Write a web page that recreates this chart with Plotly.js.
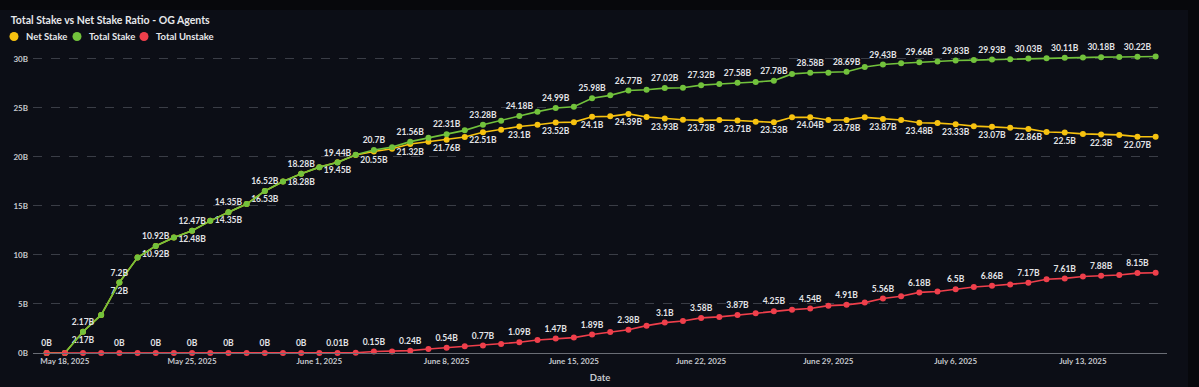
<!DOCTYPE html>
<html>
<head>
<meta charset="utf-8">
<script src="https://cdn.plot.ly/plotly-3.0.1.min.js"></script>
<style>
html,body{margin:0;padding:0;background:#07080c;}
#wrap{position:relative;width:1199px;height:387px;overflow:hidden;}
#card{position:absolute;left:0;top:10px;width:1188px;height:377px;background:#0c0e16;}
#chart{position:absolute;left:0;top:0;width:1199px;height:387px;}
</style>
</head>
<body>
<div id="wrap"><div id="card"></div><div id="chart"></div></div>
<script>
const dates = [
  '2025-05-17','2025-05-18','2025-05-19','2025-05-20','2025-05-21','2025-05-22','2025-05-23','2025-05-24',
  '2025-05-25','2025-05-26','2025-05-27','2025-05-28','2025-05-29','2025-05-30','2025-05-31','2025-06-01',
  '2025-06-02','2025-06-03','2025-06-04','2025-06-05','2025-06-06','2025-06-07','2025-06-08','2025-06-09',
  '2025-06-10','2025-06-11','2025-06-12','2025-06-13','2025-06-14','2025-06-15','2025-06-16','2025-06-17',
  '2025-06-18','2025-06-19','2025-06-20','2025-06-21','2025-06-22','2025-06-23','2025-06-24','2025-06-25',
  '2025-06-26','2025-06-27','2025-06-28','2025-06-29','2025-06-30','2025-07-01','2025-07-02','2025-07-03',
  '2025-07-04','2025-07-05','2025-07-06','2025-07-07','2025-07-08','2025-07-09','2025-07-10','2025-07-11',
  '2025-07-12','2025-07-13','2025-07-14','2025-07-15','2025-07-16','2025-07-17'
];

// values in billions
const netStake = [
  0, 0, 2.17, 3.88, 7.2, 9.74, 10.92, 11.78,
  12.48, 13.48, 14.35, 15.19, 16.53, 17.5, 18.28, 18.96,
  19.45, 20.19, 20.55, 20.83, 21.32, 21.54, 21.76, 22.03,
  22.51, 22.78, 23.1, 23.29, 23.52, 23.55, 24.1, 24.14,
  24.39, 24.07, 23.93, 23.79, 23.73, 23.76, 23.71, 23.6,
  23.53, 24.05, 24.04, 23.77, 23.78, 24.04, 23.87, 23.76,
  23.48, 23.45, 23.33, 23.14, 23.07, 22.98, 22.86, 22.55,
  22.5, 22.35, 22.3, 22.25, 22.07, 22.06
];
const totalStake = [
  0, 0, 2.17, 3.88, 7.2, 9.74, 10.92, 11.78,
  12.47, 13.48, 14.35, 15.19, 16.52, 17.5, 18.28, 18.96,
  19.44, 20.22, 20.7, 21.0, 21.56, 21.95, 22.31, 22.71,
  23.28, 23.7, 24.18, 24.62, 24.99, 25.12, 25.98, 26.28,
  26.77, 26.86, 27.02, 27.06, 27.32, 27.44, 27.58, 27.65,
  27.78, 28.47, 28.58, 28.6, 28.69, 29.18, 29.43, 29.55,
  29.66, 29.73, 29.83, 29.88, 29.93, 29.97, 30.03, 30.07,
  30.11, 30.15, 30.18, 30.2, 30.22, 30.24
];
const totalUnstake = [
  0, 0, 0, 0, 0, 0, 0, 0,
  0, 0, 0, 0, 0, 0, 0, 0,
  0.01, 0.03, 0.15, 0.16, 0.24, 0.41, 0.54, 0.68,
  0.77, 0.92, 1.09, 1.33, 1.47, 1.57, 1.89, 2.14,
  2.38, 2.79, 3.1, 3.27, 3.58, 3.68, 3.87, 4.05,
  4.25, 4.42, 4.54, 4.83, 4.91, 5.14, 5.56, 5.79,
  6.18, 6.28, 6.5, 6.74, 6.86, 6.99, 7.17, 7.52,
  7.61, 7.8, 7.88, 7.95, 8.15, 8.18
];

// which points carry a value label
const netLabelIdx = [2,4,6,8,10,12,14,16,18,20,22,24,26,28,30,32,34,36,38,40,42,44,46,48,50,52,54,56,58,60];
const totalLabelIdx = [2,4,6,8,10,12,14,16,18,20,22,24,26,28,30,32,34,36,38,40,42,44,46,48,50,52,54,56,58,60];
const unstakeLabelIdx = [0,4,6,8,10,12,14,16,18,20,22,24,26,28,30,32,34,36,38,40,42,44,46,48,50,52,54,56,58,60];

const seriesNames = ['Net Stake', 'Total Stake', 'Total Unstake'];
const seriesColors = ['#f7c20f', '#72c23c', '#ef3f4b'];

function labels(vals, idx) {
  return vals.map((v, i) => idx.includes(i) ? (v + 'B') : '');
}

const labelFont = {family: 'Lato', size: 8.5, weight: 700, color: '#e2e3e6'};
const seriesData = [netStake, totalStake, totalUnstake];
const seriesLabels = [netLabelIdx, totalLabelIdx, unstakeLabelIdx];
const seriesPos = ['bottom center', 'top center', 'top center'];

const traces = [];
for (let s = 0; s < 3; s++) {
  traces.push({
    type: 'scatter',
    mode: 'lines+markers+text',
    x: dates,
    y: seriesData[s],
    name: seriesNames[s],
    showlegend: false,
    line: {color: seriesColors[s], width: 1.6},
    marker: {color: seriesColors[s], size: 6},
    text: labels(seriesData[s], seriesLabels[s]),
    textposition: seriesPos[s],
    textfont: labelFont,
    cliponaxis: false,
    hoverinfo: 'skip'
  });
}

// custom compact legend (dot + name), placed in the top margin
const M = {l: 33, r: 32, t: 54, b: 34};
const W = 1199, H = 387;
const plotW = W - M.l - M.r, plotH = H - M.t - M.b;
const pxX = px => (px - M.l) / plotW;
const pxY = py => (H - M.b - py) / plotH;
const legendDotX = [14, 77, 144];
const legendY = 36.5;

const shapes = [], annotations = [];
for (let s = 0; s < 3; s++) {
  shapes.push({
    type: 'circle', xref: 'paper', yref: 'paper',
    xsizemode: 'pixel', ysizemode: 'pixel',
    xanchor: pxX(legendDotX[s]), yanchor: pxY(legendY),
    x0: -4.5, x1: 4.5, y0: -4.5, y1: 4.5,
    fillcolor: seriesColors[s], line: {width: 0}
  });
  annotations.push({
    text: seriesNames[s], xref: 'paper', yref: 'paper',
    x: pxX(legendDotX[s] + 9.5), y: pxY(legendY),
    xanchor: 'left', yanchor: 'middle', showarrow: false,
    font: {family: 'Lato', size: 9.5, weight: 700, color: '#e6e7ea'}
  });
}

const tickFont = {family: 'Lato', size: 8, weight: 700, color: '#c6c8cd'};

const layout = {
  width: W,
  height: H,
  paper_bgcolor: 'rgba(0,0,0,0)',
  plot_bgcolor: 'rgba(0,0,0,0)',
  margin: M,
  title: {
    text: 'Total Stake vs Net Stake Ratio - OG Agents',
    font: {family: 'Lato', size: 10.5, weight: 700, color: '#e6e7ea'},
    xref: 'container', yref: 'container',
    x: 0.009, xanchor: 'left',
    y: 0.947, yanchor: 'middle'
  },
  showlegend: false,
  shapes: shapes,
  annotations: annotations,
  xaxis: {
    type: 'date',
    range: ['2025-05-16 06:00', '2025-07-17 15:00'],
    tick0: '2025-05-18',
    dtick: 7 * 24 * 3600 * 1000,
    tickformat: '%B %-d, %Y',
    tickfont: tickFont,
    showgrid: false,
    zeroline: false,
    showline: true,
    linecolor: '#6a6d75',
    linewidth: 1,
    ticks: '',
    title: {text: 'Date', font: {family: 'Lato', size: 9.5, weight: 700, color: '#c6c8cd'}, standoff: 9}
  },
  yaxis: {
    range: [0, 30.5],
    tickvals: [0, 5, 10, 15, 20, 25, 30],
    ticktext: ['0B', '5B', '10B', '15B', '20B', '25B', '30B'],
    tickfont: tickFont,
    showgrid: true,
    gridcolor: '#3a3d46',
    griddash: 'dash',
    gridwidth: 1,
    zeroline: false,
    showline: false,
    ticks: '',
    ticklabelstandoff: 4
  }
};

Plotly.newPlot('chart', traces, layout, {displayModeBar: false, staticPlot: true});
</script>
</body>
</html>
